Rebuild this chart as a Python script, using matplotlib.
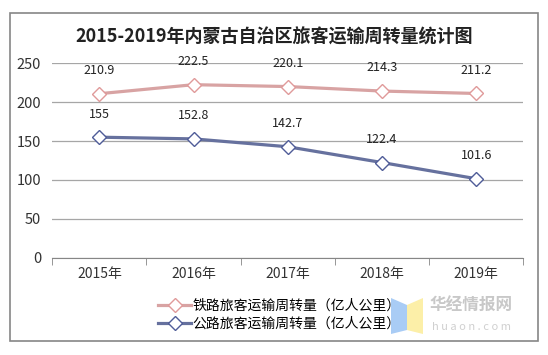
import matplotlib
matplotlib.use("Agg")
import matplotlib.pyplot as plt
from matplotlib.patches import Rectangle, Polygon

plt.rcParams['font.family'] = ['Noto Sans CJK SC', 'DejaVu Sans']

# data
years = ['2015年', '2016年', '2017年', '2018年', '2019年']
rail = [210.9, 222.5, 220.1, 214.3, 211.2]
road = [155, 152.8, 142.7, 122.4, 101.6]
rail_name = '铁路旅客运输周转量（亿人公里）'
road_name = '公路旅客运输周转量（亿人公里）'
title = '2015-2019年内蒙古自治区旅客运输周转量统计图'

rail_col = '#D8A3A3'
rail_edge = '#E09A9A'
road_col = '#66719E'
road_edge = '#4F5C98'

fig = plt.figure(figsize=(5.48, 3.55), dpi=100)
ax = fig.add_axes([0.0954, 0.274, 0.8596, 0.5477])

x = list(range(len(years)))
ax.plot(x, rail, color=rail_col, lw=2.3, marker='D', ms=7,
        mfc='white', mec=rail_edge, mew=1.0, label=rail_name, zorder=3)
ax.plot(x, road, color=road_col, lw=2.3, marker='D', ms=7,
        mfc='white', mec=road_edge, mew=1.0, label=road_name, zorder=3)

for xi, v in zip(x, rail):
    ax.annotate(f'{v:g}', (xi, v), xytext=(0, 12), textcoords='offset points',
                ha='center', va='bottom', fontsize=9, color='#222222')
for xi, v in zip(x, road):
    ax.annotate(f'{v:g}', (xi, v), xytext=(0, 12), textcoords='offset points',
                ha='center', va='bottom', fontsize=9, color='#222222')

ax.set_xlim(-0.5, len(years) - 0.5)
ax.set_ylim(0, 250)
ax.set_yticks(range(0, 251, 50))
ax.grid(axis='y', color='#A6A6A6', lw=0.9)
ax.set_axisbelow(True)
for s in ['top', 'right', 'left']:
    ax.spines[s].set_visible(False)
ax.spines['bottom'].set_color('#868686')
ax.set_xticks(x)
ax.set_xticklabels(years)
ax.set_xticks([i - 0.5 for i in range(len(years) + 1)], minor=True)
ax.tick_params(axis='x', which='major', length=0, pad=7, labelsize=10, labelcolor='#333333')
ax.tick_params(axis='x', which='minor', length=5, color='#868686', direction='out')
ax.tick_params(axis='y', length=0, pad=8, labelsize=10.5, labelcolor='#333333')

fig.text(0.5, 0.895, title, ha='center', va='center', fontsize=13,
         fontweight='bold', color='#222222')

fig.legend(loc='upper left', bbox_to_anchor=(0.278, 0.175), frameon=False,
           fontsize=10, handlelength=2.4, handletextpad=0.1,
           labelspacing=0.3, borderaxespad=0)

# outer frame
fig.patches.append(Rectangle((10 / 548, 1 - 341 / 355), 528 / 548, 328 / 355,
                             transform=fig.transFigure, fill=False,
                             edgecolor='#868686', lw=1.2))

# watermark
fig.patches.append(Polygon([(391 / 548, 1 - 298 / 355), (407 / 548, 1 - 305 / 355),
                            (407 / 548, 1 - 330 / 355), (391 / 548, 1 - 334 / 355)],
                           closed=True, transform=fig.transFigure,
                           facecolor='#A9CCF5', edgecolor='none'))
fig.patches.append(Polygon([(407 / 548, 1 - 305 / 355), (423 / 548, 1 - 298 / 355),
                            (423 / 548, 1 - 334 / 355), (407 / 548, 1 - 330 / 355)],
                           closed=True, transform=fig.transFigure,
                           facecolor='#FCEFA8', edgecolor='none'))
fig.text(430 / 548, 1 - 306 / 355, '华经情报网', fontsize=12, fontweight='bold',
         color='#C8C8C8', va='center', ha='left')
fig.text(432 / 548, 1 - 327 / 355, 'h u a o n . c o m', fontsize=8,
         color='#D0D0D0', va='center', ha='left')

fig.savefig('out.png', dpi=100)
